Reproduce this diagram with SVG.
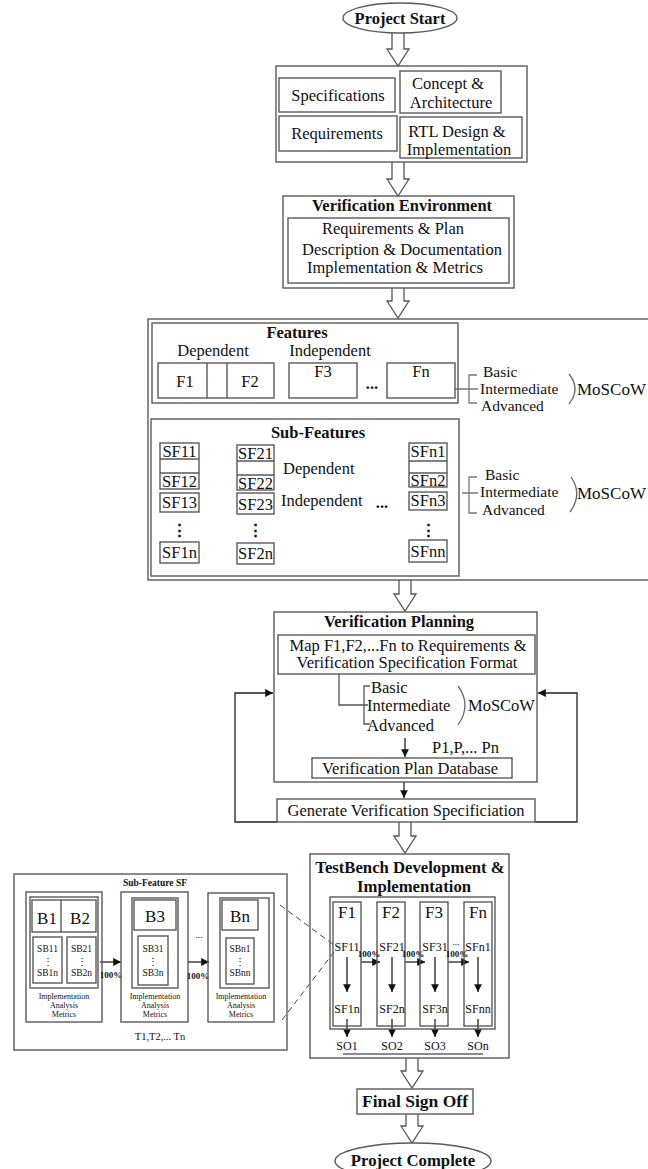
<svg xmlns="http://www.w3.org/2000/svg" width="648" height="1169" viewBox="0 0 648 1169">
<defs>
<style>
.b{fill:none;stroke:#5a5a5a;stroke-width:1.4}
.w{fill:#fff;stroke:#5a5a5a;stroke-width:1.4}
.ln{fill:none;stroke:#222;stroke-width:1.3}
.ba{fill:#fff;stroke:#555;stroke-width:1.3}
.da{fill:none;stroke:#444;stroke-width:1;stroke-dasharray:6 4}
text{font-family:"Liberation Serif","Times New Roman",serif;fill:#111}
.t{font-size:16.5px}
.tb{font-size:16.5px;font-weight:bold}
.br{font-size:15.5px}
.m{text-anchor:middle}
.s12{font-size:12px}
.s9{font-size:9.5px}
.s8{font-size:8px}
.pct{font-size:9px;font-weight:bold;text-anchor:middle}
</style>
<marker id="ah" viewBox="0 0 8 8" refX="8" refY="4" markerWidth="6" markerHeight="6" orient="auto">
<path d="M0,0 L8,4 L0,8 z" fill="#111"/>
</marker>
</defs>
<rect width="648" height="1169" fill="#fff"/>

<g id="connectors">
<path class="ba" d="M392,33 V49 H387 L398,66 L409,49 H404 V33"/>
<path class="ba" d="M392,162 V179 H387 L398,196 L409,179 H404 V162"/>
<path class="ba" d="M392,288 V301 H387 L398,318 L409,301 H404 V288"/>
<path class="ba" d="M399,580 V594 H394 L405,611 L416,594 H411 V580"/>
<path class="ba" d="M399,822 V836 H394 L405,853 L416,836 H411 V822"/>
<path class="ba" d="M406,1058 V1071 H401 L412,1088 L423,1071 H418 V1058"/>
<path class="ba" d="M406,1114 V1126 H401 L412,1143 L423,1126 H418 V1114"/>
<path class="ln" style="stroke:#777" d="M455,389 H478 M477,375 H469 V403 H477"/>
<path class="ln" style="stroke:#777" d="M462,493 H478 M477,477 H469 V513 H477"/>
<path class="ln" style="stroke:#666" d="M569,374 Q581,389 569,404"/>
<path class="ln" style="stroke:#666" d="M571,477 Q583,494 570,512"/>
<path class="ln" style="stroke:#555" d="M339,674 V705 H368 M370,686 H364 V724 H370"/>
<path class="ln" style="stroke:#666" d="M458,686 Q472,705 458,725"/>
<line class="ln" x1="405" y1="738" x2="405" y2="757" marker-end="url(#ah)"/>
<line class="ln" x1="404" y1="782" x2="404" y2="798" marker-end="url(#ah)"/>
<path class="ln" d="M277,822 H235 V693 H273" marker-end="url(#ah)"/>
<path class="ln" d="M535,822 H577 V693 H538" marker-end="url(#ah)"/>
<line class="ln" x1="347" y1="957" x2="347" y2="992" marker-end="url(#ah)"/>
<line class="ln" x1="392" y1="957" x2="392" y2="992" marker-end="url(#ah)"/>
<line class="ln" x1="435" y1="957" x2="435" y2="992" marker-end="url(#ah)"/>
<line class="ln" x1="478" y1="957" x2="478" y2="992" marker-end="url(#ah)"/>
<line class="ln" x1="347" y1="1019" x2="347" y2="1037" marker-end="url(#ah)"/>
<line class="ln" x1="392" y1="1019" x2="392" y2="1037" marker-end="url(#ah)"/>
<line class="ln" x1="435" y1="1019" x2="435" y2="1037" marker-end="url(#ah)"/>
<line class="ln" x1="478" y1="1019" x2="478" y2="1037" marker-end="url(#ah)"/>
<line class="ln" x1="361" y1="962" x2="380" y2="962" marker-end="url(#ah)"/>
<line class="ln" x1="405" y1="962" x2="425" y2="962" marker-end="url(#ah)"/>
<line class="ln" x1="448" y1="962" x2="469" y2="962" marker-end="url(#ah)"/>
<line class="ln" x1="343" y1="1054" x2="483" y2="1054" style="stroke:#666"/>
<line class="ln" x1="100" y1="962" x2="121" y2="962" marker-end="url(#ah)"/>
<line class="ln" x1="188" y1="962" x2="209" y2="962" marker-end="url(#ah)"/>
<line class="da" x1="280" y1="905" x2="334" y2="945"/>
<line class="da" x1="282" y1="1020" x2="334" y2="952"/>
</g>

<g id="project-start">
<ellipse class="w" cx="400" cy="18" rx="57" ry="15"/>
<text class="tb m" x="400" y="24">Project Start</text>
</g>

<g id="design-block">
<rect class="b" x="276" y="66" width="251" height="96"/>
<rect class="b" x="279" y="78" width="116" height="34"/>
<text class="t m" x="338" y="101">Specifications</text>
<rect class="b" x="400" y="71" width="101" height="42"/>
<text class="t m" x="448" y="89">Concept &amp;</text>
<text class="t m" x="451" y="108">Architecture</text>
<rect class="b" x="279" y="116" width="118" height="35"/>
<text class="t m" x="337" y="139">Requirements</text>
<rect class="b" x="400" y="117" width="122" height="41"/>
<text class="t m" x="457" y="137">RTL Design &amp;</text>
<text class="t m" x="459" y="155">Implementation</text>
</g>

<g id="verification-environment">
<rect class="b" x="283" y="196" width="231" height="92"/>
<text class="tb m" x="402" y="211">Verification Environment</text>
<rect class="b" x="288" y="218" width="221" height="65"/>
<text class="t m" x="393" y="234">Requirements &amp; Plan</text>
<text class="t m" x="402" y="255">Description &amp; Documentation</text>
<text class="t m" x="395" y="273">Implementation &amp; Metrics</text>
</g>

<g id="features-block">
<rect class="b" x="148" y="319" width="520" height="261"/>
<rect class="b" x="152" y="323" width="306" height="80"/>
<text class="tb m" x="297" y="338">Features</text>
<text class="t m" x="213" y="356">Dependent</text>
<text class="t m" x="330" y="356">Independent</text>
<rect class="b" x="158" y="363" width="116" height="35"/>
<line class="b" x1="207" y1="363" x2="207" y2="398"/>
<line class="b" x1="227" y1="363" x2="227" y2="398"/>
<text class="t m" x="185" y="387">F1</text>
<text class="t m" x="250" y="387">F2</text>
<rect class="b" x="289" y="363" width="68" height="35"/>
<text class="t m" x="323" y="377">F3</text>
<text class="tb m" x="372" y="389">...</text>
<rect class="b" x="387" y="363" width="68" height="35"/>
<text class="t m" x="421" y="377">Fn</text>
<text class="br" x="483" y="377">Basic</text>
<text class="br" x="480" y="394">Intermediate</text>
<text class="br" x="481" y="411">Advanced</text>
<text style="font-size:17px" x="577" y="395">MoSCoW</text>
</g>

<g id="sub-features">
<rect class="b" x="151" y="419" width="308" height="157"/>
<text class="tb m" x="318" y="438">Sub-Features</text>
<rect class="b" x="160" y="443" width="39" height="46"/>
<path class="b" d="M160,459 H199 M160,473 H199"/>
<rect class="b" x="160" y="493" width="39" height="19"/>
<rect class="b" x="160" y="542" width="39" height="21"/>
<text class="t m" x="179.5" y="457">SF11</text>
<text class="t m" x="179.5" y="487">SF12</text>
<text class="t m" x="179.5" y="508">SF13</text>
<text class="tb m" x="179.5" y="536">⋮</text>
<text class="t m" x="179.5" y="558">SF1n</text>
<rect class="b" x="237" y="445" width="37" height="45"/>
<path class="b" d="M237,461 H274 M237,475 H274"/>
<rect class="b" x="237" y="493" width="37" height="21"/>
<rect class="b" x="237" y="543" width="37" height="21"/>
<text class="t m" x="255.5" y="459">SF21</text>
<text class="t m" x="255.5" y="489">SF22</text>
<text class="t m" x="255.5" y="510">SF23</text>
<text class="tb m" x="255.5" y="536">⋮</text>
<text class="t m" x="255.5" y="559">SF2n</text>
<text class="t" x="283" y="474">Dependent</text>
<text class="t" x="281" y="506">Independent</text>
<text class="tb m" x="382" y="508">...</text>
<rect class="b" x="409" y="443" width="38" height="44"/>
<path class="b" d="M409,461 H447 M409,473 H447"/>
<rect class="b" x="409" y="492" width="38" height="18"/>
<rect class="b" x="409" y="540" width="38" height="22"/>
<text class="t m" x="428" y="457">SFn1</text>
<text class="t m" x="428" y="486">SFn2</text>
<text class="t m" x="428" y="506">SFn3</text>
<text class="tb m" x="428" y="536">⋮</text>
<text class="t m" x="428" y="557">SFnn</text>
<text class="br" x="485" y="480">Basic</text>
<text class="br" x="480" y="497">Intermediate</text>
<text class="br" x="482" y="515">Advanced</text>
<text style="font-size:17px" x="577" y="499">MoSCoW</text>
</g>

<g id="verification-planning">
<rect class="b" x="274" y="612" width="263" height="170"/>
<text class="tb m" x="399" y="627">Verification Planning</text>
<rect class="b" x="278" y="635" width="257" height="39"/>
<text class="t m" x="408" y="651">Map F1,F2,...Fn to Requirements &amp;</text>
<text class="t m" x="407" y="668">Verification Specification Format</text>
<text class="t" x="371" y="693">Basic</text>
<text class="t" x="367" y="711">Intermediate</text>
<text class="t" x="367" y="731">Advanced</text>
<text class="t" x="468" y="711">MoSCoW</text>
<text class="t" x="432" y="753">P1,P,... Pn</text>
<rect class="b" x="312" y="758" width="200" height="20"/>
<text class="t m" x="410" y="774">Verification Plan Database</text>
</g>

<g id="generate-spec">
<rect class="b" x="277" y="799" width="258" height="23"/>
<text class="t m" x="406" y="816">Generate Verification Specificiation</text>
</g>

<g id="sub-feature-sf">
<rect class="b" x="14" y="874" width="273" height="176"/>
<text class="s9 m" style="font-weight:bold" x="155" y="886">Sub-Feature SF</text>
<rect class="b" x="26" y="892" width="76" height="130"/>
<rect class="b" x="30" y="897" width="68" height="91"/>
<rect class="b" x="32" y="900" width="64" height="32"/>
<line class="b" x1="61" y1="900" x2="61" y2="932"/>
<text class="m" style="font-size:17px" x="47" y="924">B1</text>
<text class="m" style="font-size:17px" x="80" y="924">B2</text>
<rect class="b" x="33" y="937" width="29" height="46"/>
<rect class="b" x="67" y="937" width="29" height="46"/>
<text class="s9 m" x="47.5" y="952">SB11</text>
<text class="s9 m" x="47.5" y="965">⋮</text>
<text class="s9 m" x="47.5" y="976">SB1n</text>
<text class="s9 m" x="81.5" y="952">SB21</text>
<text class="s9 m" x="81.5" y="965">⋮</text>
<text class="s9 m" x="81.5" y="976">SB2n</text>
<text class="s8 m" x="64" y="999">Implementation</text>
<text class="s8 m" x="64" y="1008">Analysis</text>
<text class="s8 m" x="64" y="1017">Metrics</text>
<text class="pct" x="111" y="978">100%</text>
<rect class="b" x="121" y="892" width="67" height="130"/>
<rect class="b" x="132" y="898" width="46" height="90"/>
<rect class="b" x="134" y="900" width="42" height="30"/>
<text class="m" style="font-size:17px" x="155" y="922">B3</text>
<rect class="b" x="138" y="936" width="30" height="49"/>
<text class="s9 m" x="153" y="952">SB31</text>
<text class="s9 m" x="153" y="965">⋮</text>
<text class="s9 m" x="153" y="976">SB3n</text>
<text class="s8 m" x="155" y="999">Implementation</text>
<text class="s8 m" x="155" y="1008">Analysis</text>
<text class="s8 m" x="155" y="1017">Metrics</text>
<text class="s9 m" x="199" y="938">...</text>
<text class="pct" x="198" y="979">100%</text>
<rect class="b" x="208" y="893" width="66" height="129"/>
<rect class="b" x="220" y="898" width="49" height="90"/>
<rect class="b" x="222" y="900" width="36" height="30"/>
<text class="m" style="font-size:17px" x="240" y="922">Bn</text>
<rect class="b" x="226" y="938" width="28" height="46"/>
<text class="s9 m" x="240" y="952">SBn1</text>
<text class="s9 m" x="240" y="965">⋮</text>
<text class="s9 m" x="240" y="976">SBnn</text>
<text class="s8 m" x="241" y="999">Implementation</text>
<text class="s8 m" x="241" y="1008">Analysis</text>
<text class="s8 m" x="241" y="1017">Metrics</text>
<text class="m" style="font-size:10.5px" x="160" y="1040">T1,T2,... Tn</text>
</g>

<g id="testbench">
<rect class="b" x="310" y="854" width="199" height="204"/>
<text class="m" style="font-size:16.7px;font-weight:bold" x="410" y="873">TestBench Development &amp;</text>
<text class="m" style="font-size:16.7px;font-weight:bold" x="414" y="892">Implementation</text>
<rect class="b" x="330" y="897" width="165" height="132"/>
<rect class="b" x="333" y="902" width="28" height="124"/>
<rect class="b" x="377" y="902" width="28" height="124"/>
<rect class="b" x="420" y="902" width="28" height="124"/>
<rect class="b" x="464" y="902" width="28" height="124"/>
<text class="m" style="font-size:17px" x="347" y="918">F1</text>
<text class="m" style="font-size:17px" x="391" y="918">F2</text>
<text class="m" style="font-size:17px" x="434" y="918">F3</text>
<text class="m" style="font-size:17px" x="478" y="918">Fn</text>
<text class="s12 m" x="347" y="951">SF11</text>
<text class="s12 m" x="392" y="951">SF21</text>
<text class="s12 m" x="435" y="951">SF31</text>
<text class="s12 m" x="478" y="951">SFn1</text>
<text class="pct" x="369" y="957">100%</text>
<text class="pct" x="413" y="957">100%</text>
<text class="s9 m" x="456" y="945">...</text>
<text class="pct" x="457" y="957">100%</text>
<text class="s12 m" x="347" y="1013">SF1n</text>
<text class="s12 m" x="392" y="1013">SF2n</text>
<text class="s12 m" x="435" y="1013">SF3n</text>
<text class="s12 m" x="478" y="1013">SFnn</text>
<text class="s12 m" x="347" y="1050">SO1</text>
<text class="s12 m" x="392" y="1050">SO2</text>
<text class="s12 m" x="435" y="1050">SO3</text>
<text class="s12 m" x="478" y="1050">SOn</text>
</g>

<g id="final-sign-off">
<rect class="b" x="357" y="1089" width="116" height="25"/>
<text class="m" style="font-size:17.5px;font-weight:bold" x="415" y="1107">Final Sign Off</text>
</g>

<g id="project-complete">
<ellipse class="w" cx="413" cy="1161" rx="78" ry="18"/>
<text class="m" style="font-size:16.7px;font-weight:bold" x="413" y="1166">Project Complete</text>
</g>
</svg>
